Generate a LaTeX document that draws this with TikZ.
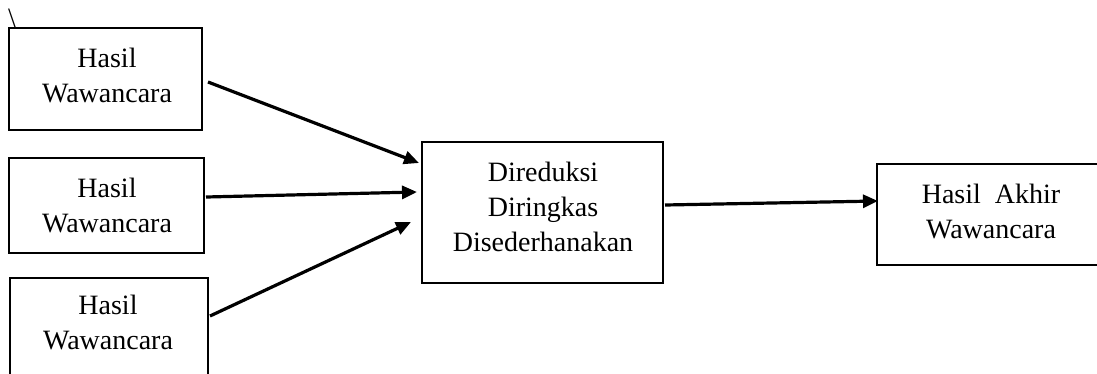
\documentclass[tikz,border=0pt]{standalone}
\usepackage{fontspec}
\setmainfont{Liberation Serif}
\usetikzlibrary{arrows.meta,calc}
\begin{document}
\begin{tikzpicture}[x=1pt,y=-1pt,
  every node/.style={font=\fontsize{28}{35}\selectfont, align=center, inner sep=0pt},
  box/.style={draw, line width=2pt, rectangle},
  conn/.style={line width=3.2pt, -{Triangle[length=15pt,width=13pt]}}]
\clip (0,0) rectangle (1097,373);
\fill[white] (0,0) rectangle (1097,373);
% stray backslash
\node (bs) at (12,18) {\textbackslash};
% input boxes
\node[box, minimum width=193pt, minimum height=102pt] (b1) at (105.5,79) {};
\node (t1) at (107,75.5) {Hasil\\Wawancara};
\node[box, minimum width=195pt, minimum height=95pt] (b2) at (106.5,205.5) {};
\node (t2) at (107,205.5) {Hasil\\Wawancara};
\node[box, minimum width=198pt, minimum height=120pt, anchor=north west] (b3) at (9,277) {};
\node (t3) at (108,322) {Hasil\\Wawancara};
% centre box
\node[box, minimum width=241pt, minimum height=141pt] (c) at (542.5,212.5) {};
\node (tc) at (543,207) {Direduksi\\Diringkas\\Disederhanakan};
% output box
\node[box, minimum width=230pt, minimum height=101pt, anchor=west] (r) at (876,214.5) {};
\node (tr) at (991,211.5) {Hasil\ \ Akhir\\Wawancara};
% connectors
\draw[conn] ([xshift=5pt,yshift=-3pt]b1.east) -- ([xshift=-2pt,yshift=49.5pt]c.west);
\draw[conn] ([xshift=1pt,yshift=8.5pt]b2.east) -- ([xshift=-4pt,yshift=20.5pt]c.west);
\draw[conn] ([xshift=1pt,yshift=22pt]b3.east) -- ([xshift=-10pt,yshift=-9.5pt]c.west);
\draw[conn] ([xshift=1pt,yshift=7.5pt]c.east) -- ([xshift=2pt,yshift=13.5pt]r.west);
\end{tikzpicture}
\end{document}
